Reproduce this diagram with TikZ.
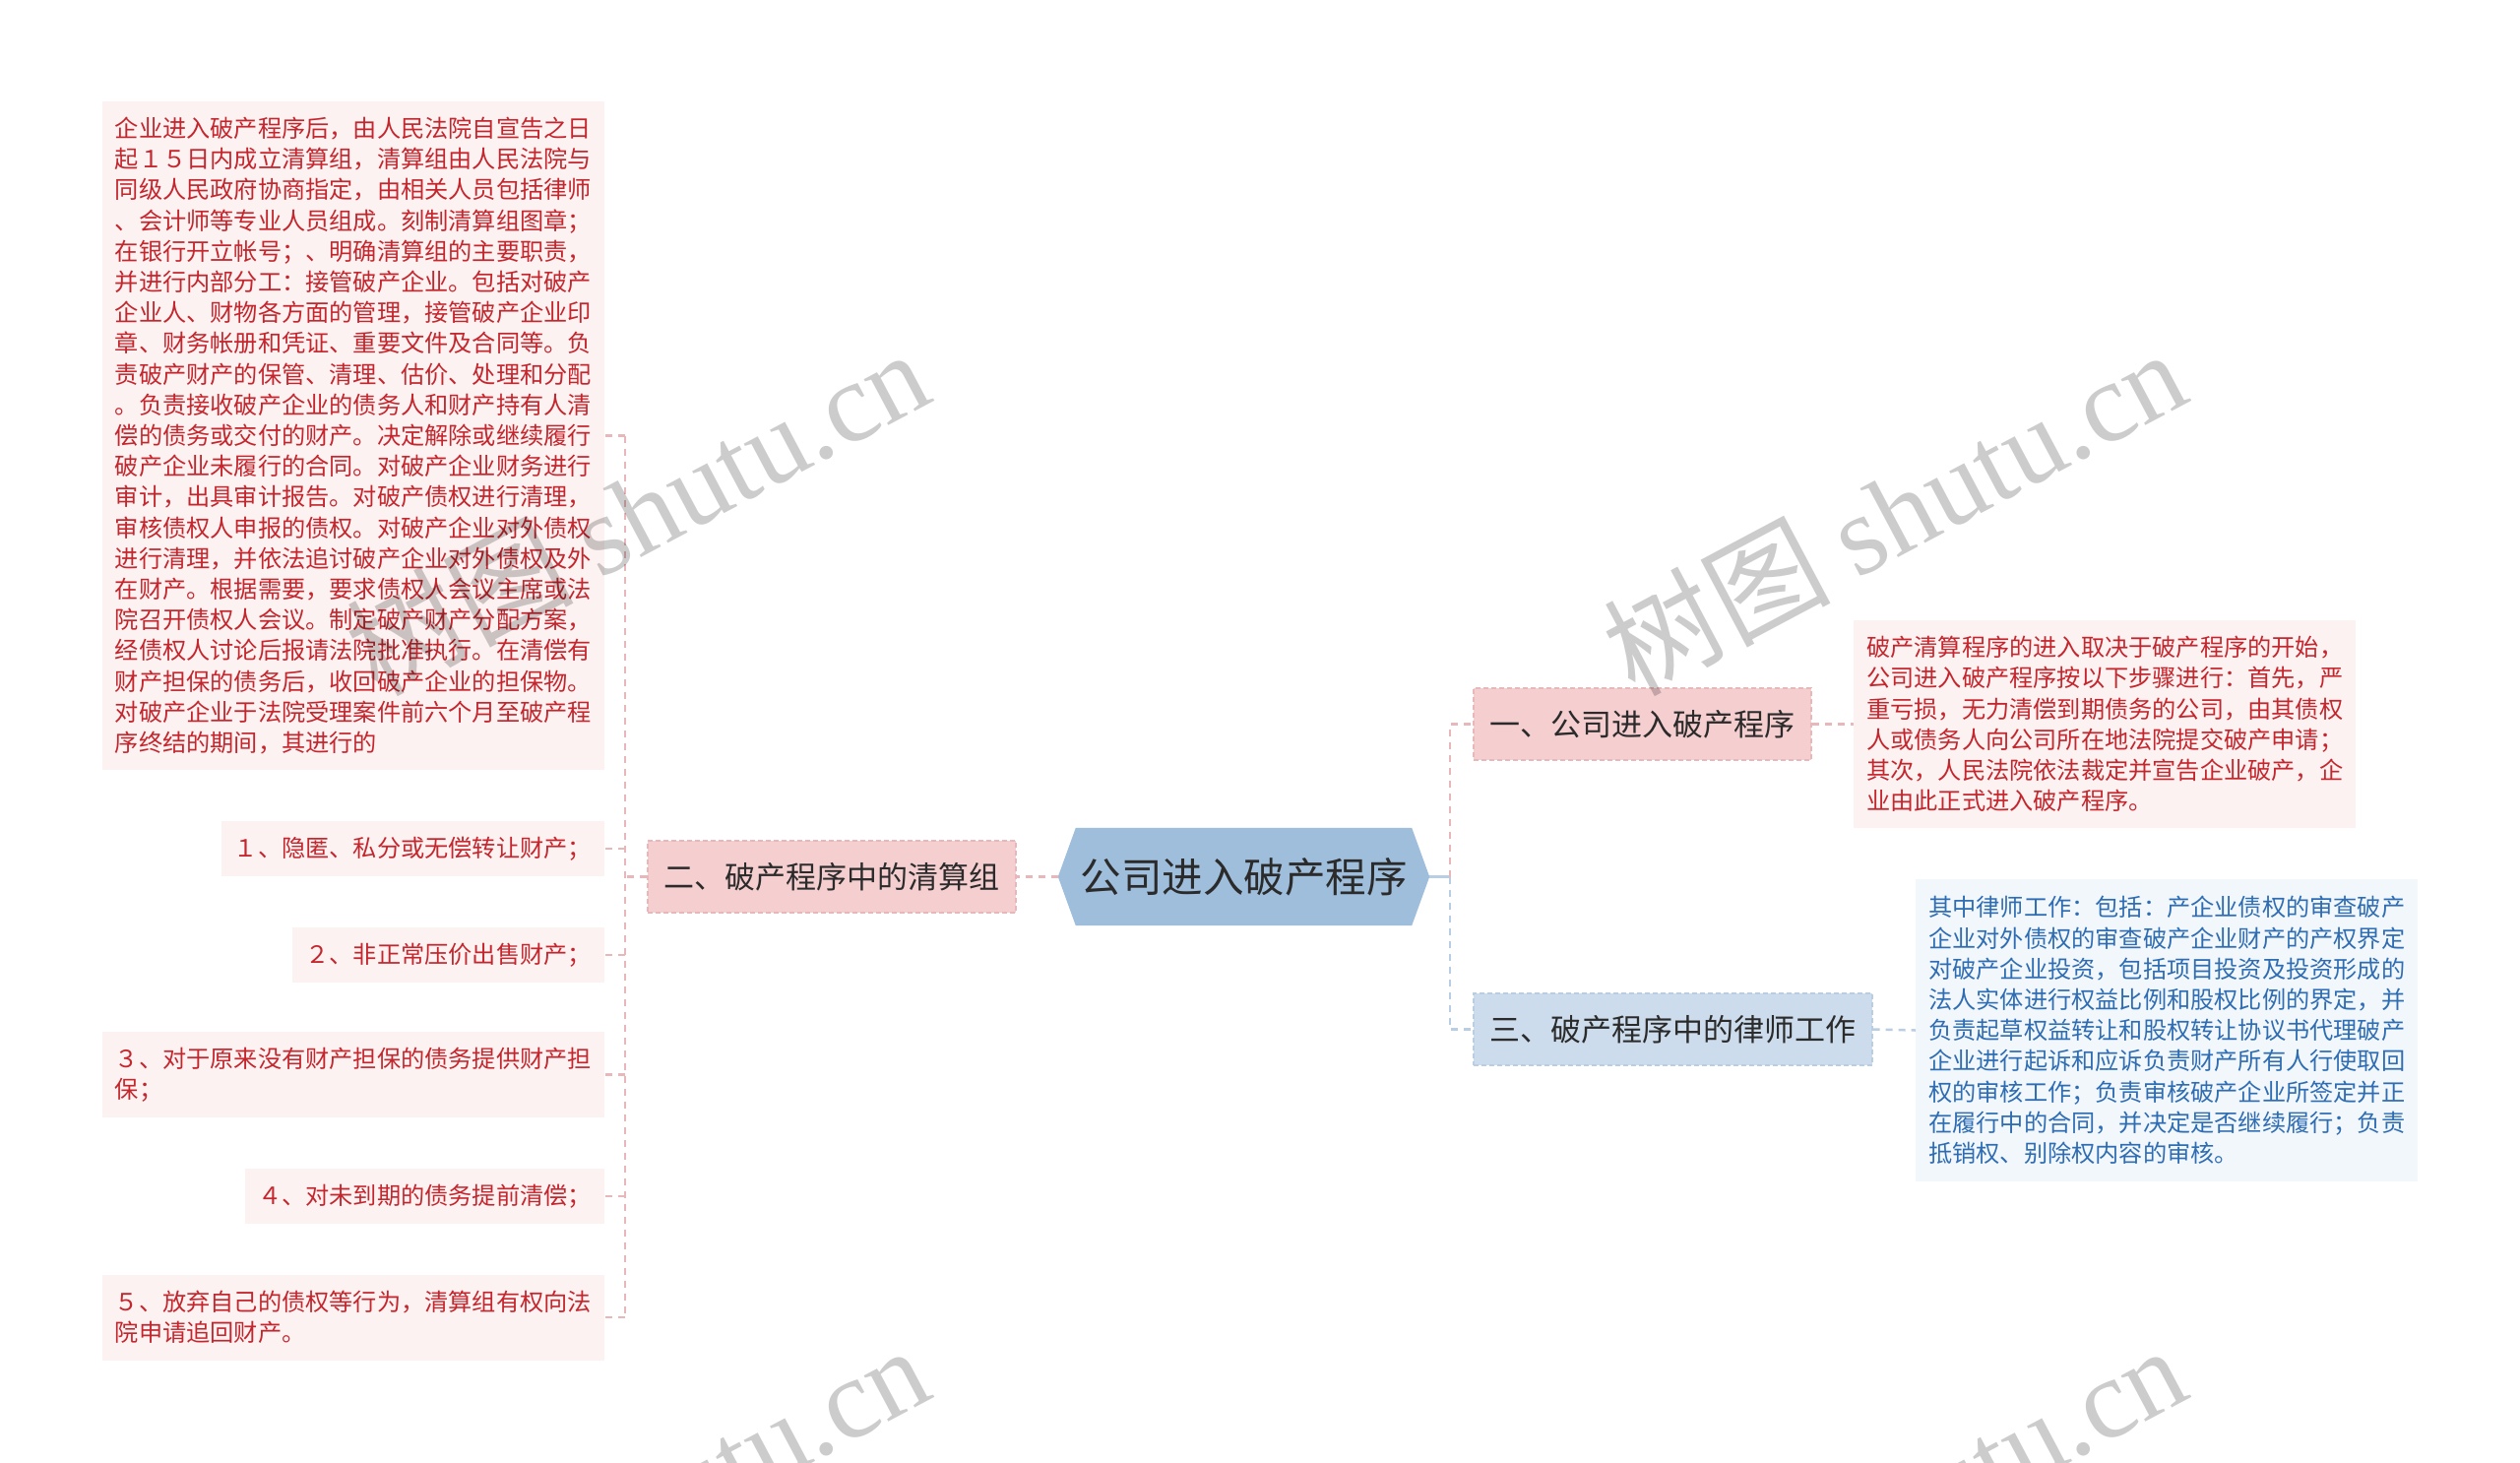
\documentclass[tikz,border=0pt]{standalone}
\usepackage{fontspec}
\setmainfont{Noto Sans CJK SC}
\newfontfamily\wmlatin{Liberation Serif}
\usetikzlibrary{calc,backgrounds}
\definecolor{pinkfill}{HTML}{F5CED0}
\definecolor{pinkline}{HTML}{E8B7BA}
\definecolor{bluefill}{HTML}{CCDCEC}
\definecolor{blueline}{HTML}{B9CEE2}
\definecolor{rootfill}{HTML}{9FBEDC}
\definecolor{leafpink}{HTML}{FDF2F2}
\definecolor{leafblue}{HTML}{F2F7FC}
\definecolor{redtext}{HTML}{C4262E}
\definecolor{bluetext}{HTML}{2F6DB3}
\definecolor{darktext}{HTML}{2B2B2B}
\tikzset{
 lvone/.style={inner xsep=0pt, inner ysep=0pt, minimum height=73pt, font=\fontsize{31}{36}\selectfont, text=darktext, dash pattern=on 5pt off 3pt, line width=1.2pt},
 pinknode/.style={lvone, fill=pinkfill, draw=pinkline},
 bluenode/.style={lvone, fill=bluefill, draw=blueline},
 leaf/.style={inner xsep=13pt, inner ysep=0pt, align=left, font=\fontsize{24.2}{31.2}\selectfont},
 leafr/.style={leaf, fill=leafpink, text=redtext},
 leafb/.style={leaf, fill=leafblue, text=bluetext},
 pinkconn/.style={draw=pinkline, line width=2.5pt, dash pattern=on 7pt off 6pt},
 blueconn/.style={draw=blueline, line width=2.5pt, dash pattern=on 7pt off 6pt},
 wm/.style={rotate=28, text=black, opacity=0.2, font=\fontsize{115}{120}\selectfont},
}
\begin{document}
\begin{tikzpicture}[x=1pt,y=-1pt]
\useasboundingbox (0,0) rectangle (2560,1486);

% root
\node[minimum width=377pt, minimum height=99pt, inner sep=0pt, font=\fontsize{41.5}{48}\selectfont, text=darktext] (root) at (1263.5,890.5) {公司进入破产程序};
\begin{pgfonlayer}{background}
\fill[white] (0,0) rectangle (2560,1486);
\fill[rootfill] (root.west) -- ($(root.north west)+(18,0)$) -- ($(root.north east)+(-18,0)$) -- (root.east) -- ($(root.south east)+(-18,0)$) -- ($(root.south west)+(18,0)$) -- cycle;
\end{pgfonlayer}

% level one
\node[pinknode, minimum width=374pt] (n2) at (845,890.5) {二、破产程序中的清算组};
\node[pinknode, minimum width=343pt] (n1) at (1668.5,735.5) {一、公司进入破产程序};
\node[bluenode, minimum width=405pt] (n3) at (1699.5,1045.5) {三、破产程序中的律师工作};

% left leaves
\node[leafr, anchor=east, minimum height=679pt] (big) at (614,442.5) {企业进入破产程序后，由人民法院自宣告之日\\
起１５日内成立清算组，清算组由人民法院与\\
同级人民政府协商指定，由相关人员包括律师\\
、会计师等专业人员组成。刻制清算组图章；\\
在银行开立帐号；、明确清算组的主要职责，\\
并进行内部分工：接管破产企业。包括对破产\\
企业人、财物各方面的管理，接管破产企业印\\
章、财务帐册和凭证、重要文件及合同等。负\\
责破产财产的保管、清理、估价、处理和分配\\
。负责接收破产企业的债务人和财产持有人清\\
偿的债务或交付的财产。决定解除或继续履行\\
破产企业未履行的合同。对破产企业财务进行\\
审计，出具审计报告。对破产债权进行清理，\\
审核债权人申报的债权。对破产企业对外债权\\
进行清理，并依法追讨破产企业对外债权及外\\
在财产。根据需要，要求债权人会议主席或法\\
院召开债权人会议。制定破产财产分配方案，\\
经债权人讨论后报请法院批准执行。在清偿有\\
财产担保的债务后，收回破产企业的担保物。\\
对破产企业于法院受理案件前六个月至破产程\\
序终结的期间，其进行的};
\node[leafr, anchor=east, minimum height=56pt] (i1) at (614,862) {１、隐匿、私分或无偿转让财产；};
\node[leafr, anchor=east, minimum height=56pt] (i2) at (614,970) {２、非正常压价出售财产；};
\node[leafr, anchor=east, minimum height=87pt] (i3) at (614,1091.5) {３、对于原来没有财产担保的债务提供财产担\\保；};
\node[leafr, anchor=east, minimum height=56pt] (i4) at (614,1215) {４、对未到期的债务提前清偿；};
\node[leafr, anchor=east, minimum height=87pt] (i5) at (614,1338) {５、放弃自己的债权等行为，清算组有权向法\\院申请追回财产。};

% right leaves
\node[leafr, anchor=west, minimum height=211pt] (t1) at (1883,735.5) {破产清算程序的进入取决于破产程序的开始，\\
公司进入破产程序按以下步骤进行：首先，严\\
重亏损，无力清偿到期债务的公司，由其债权\\
人或债务人向公司所在地法院提交破产申请；\\
其次，人民法院依法裁定并宣告企业破产，企\\
业由此正式进入破产程序。};
\node[leafb, anchor=west, minimum height=307pt] (t3) at (1946,1046.5) {其中律师工作：包括：产企业债权的审查破产\\
企业对外债权的审查破产企业财产的产权界定\\
对破产企业投资，包括项目投资及投资形成的\\
法人实体进行权益比例和股权比例的界定，并\\
负责起草权益转让和股权转让协议书代理破产\\
企业进行起诉和应诉负责财产所有人行使取回\\
权的审核工作；负责审核破产企业所签定并正\\
在履行中的合同，并决定是否继续履行；负责\\
抵销权、别除权内容的审核。};

% connectors left
\coordinate (lbr) at (635,890.5);
\draw[pinkconn] (root.west) -- (n2.east);
\draw[pinkconn] (n2.west) -- (lbr);
\draw[pinkconn] (big.east -| lbr) -- (i5.east -| lbr);
\foreach \n in {big,i1,i2,i3,i4,i5} {\draw[pinkconn] (\n.east -| lbr) -- (\n.east);}

% connectors right
\coordinate (rbr) at (1473,890.5);
\draw[draw=blueline, line width=2.5pt] (root.east) -- (rbr);
\draw[pinkconn] (rbr) -- (n1.west -| rbr) -- (n1.west);
\draw[blueconn] (rbr) -- (n3.west -| rbr) -- (n3.west);
\draw[pinkconn] (n1.east) -- (t1.west);
\draw[blueconn] (n3.east) -- (t3.west);

% watermarks
\begin{scope}
\clip (0,0) rectangle (2560,1486);
\node[wm] (wm1) at (647,519) {树图 {\wmlatin shutu.cn}};
\node[wm] (wm2) at (1924,519) {树图 {\wmlatin shutu.cn}};
\node[wm] (wm3) at (647,1531) {树图 {\wmlatin shutu.cn}};
\node[wm] (wm4) at (1924,1531) {树图 {\wmlatin shutu.cn}};
\end{scope}
\end{tikzpicture}
\end{document}
